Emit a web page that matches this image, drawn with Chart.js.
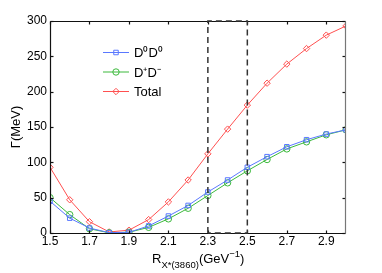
<!DOCTYPE html>
<html>
<head>
<meta charset="utf-8">
<script src="https://cdn.jsdelivr.net/npm/chart.js@4/dist/chart.umd.min.js"></script>
<style>
  html, body { margin: 0; padding: 0; background: #fff; }
</style>
</head>
<body>
<canvas id="chart" width="382" height="273"></canvas>
<script>
const rValues = [1.5, 1.6, 1.7, 1.8, 1.9, 2.0, 2.1, 2.2, 2.3, 2.4, 2.5, 2.6, 2.7, 2.8, 2.9, 3.0];
const d0d0 = [45, 21, 7, 0.5, 1, 10, 24, 39, 58, 75, 93, 108, 122, 132, 140, 146];
const dpdm = [50, 26, 6, 0.3, 1, 8, 20, 35, 53, 71, 88, 104, 119, 129, 139, 146];
const total = [93, 47, 16, 1.5, 4, 19, 44, 75, 112, 147, 181, 212, 239, 261, 280, 293];
const xTicks = [1.5, 1.7, 1.9, 2.1, 2.3, 2.5, 2.7, 2.9];
const yTicks = [0, 50, 100, 150, 200, 250, 300];
const boxRange = [2.3, 2.5];

const FONT = "'Liberation Sans', Arial, sans-serif";
const colors = {
  d0d0: "rgb(90,120,255)",
  dpdm: "rgb(60,185,60)",
  total: "rgb(255,80,80)",
};

const toPoints = (vals) => vals.map((v, i) => ({ x: rValues[i], y: v }));

const seriesList = [
  { label: "D\u2070D\u2070", data: d0d0, color: colors.d0d0, style: "rect" },
  { label: "D\u207AD\u207B", data: dpdm, color: colors.dpdm, style: "circle" },
  { label: "Total", data: total, color: colors.total, style: "rectRot" },
];

function seg(ctx, x1, y1, x2, y2) {
  ctx.beginPath();
  ctx.moveTo(x1, y1);
  ctx.lineTo(x2, y2);
  ctx.stroke();
}

// frame, inward ticks, dashed box, legend and titles
const decorations = {
  id: "decorations",
  afterDraw(chart) {
    const { ctx, chartArea: a, scales } = chart;
    const xs = scales.x, ys = scales.y;
    const L = Math.round(a.left) + 0.5, R = Math.round(a.right) - 0.5;
    const T = Math.round(a.top) + 0.5, B = Math.round(a.bottom) + 0.5;

    ctx.save();
    ctx.setLineDash([]);
    ctx.lineWidth = 1.2;
    ctx.strokeStyle = "#111";
    seg(ctx, L, T, L, B);
    seg(ctx, L, B, R, B);
    seg(ctx, L, T, R, T);
    xTicks.forEach((v) => {
      const px = Math.round(xs.getPixelForValue(v)) + 0.5;
      seg(ctx, px, B, px, B - 3);
      seg(ctx, px, T, px, T + 3);
    });
    yTicks.forEach((v) => {
      const py = Math.round(ys.getPixelForValue(v)) + 0.5;
      seg(ctx, L, py, L + 3, py);
      seg(ctx, R, py, R - 3, py);
    });
    ctx.strokeStyle = "#777";
    seg(ctx, R, T, R, B);
    ctx.restore();

    // dashed box
    ctx.save();
    ctx.strokeStyle = "#333";
    ctx.lineWidth = 1.5;
    ctx.setLineDash([6, 4]);
    const bx1 = xs.getPixelForValue(boxRange[0]);
    const bx2 = xs.getPixelForValue(boxRange[1]);
    const by1 = ys.getPixelForValue(300);
    const by2 = ys.getPixelForValue(0);
    ctx.beginPath();
    ctx.moveTo(bx1, by2); ctx.lineTo(bx1, by1);
    ctx.lineTo(bx2, by1); ctx.lineTo(bx2, by2);
    ctx.lineTo(bx1, by2);
    ctx.stroke();
    ctx.restore();

    ctx.save();
    // tick labels
    ctx.fillStyle = "#000";
    ctx.font = "12px " + FONT;
    ctx.textAlign = "center";
    ctx.textBaseline = "middle";
    xTicks.forEach((v) => {
      ctx.fillText(v.toFixed(1), xs.getPixelForValue(v), a.bottom + 9);
    });
    ctx.textAlign = "right";
    yTicks.forEach((v) => {
      ctx.fillText(String(v), a.left - 3, ys.getPixelForValue(v));
    });

    // legend
    const lx = a.left + 53;
    let ly = a.top + 31.5;
    ctx.font = "13px " + FONT;
    ctx.textAlign = "left";
    ctx.textBaseline = "middle";
    seriesList.forEach((s) => {
      ctx.strokeStyle = s.color;
      ctx.fillStyle = "rgba(0,0,0,0)";
      ctx.lineWidth = 1;
      seg(ctx, lx, ly, lx + 26, ly);
      Chart.helpers.drawPoint(ctx, { pointStyle: s.style, radius: 3.2, borderWidth: 1 }, lx + 13, ly);
      ctx.fillStyle = "#000";
      ctx.fillText(s.label, lx + 31, ly + 1);
      ly += 19.5;
    });

    // y title
    ctx.save();
    ctx.translate(16, (a.top + a.bottom) / 2);
    ctx.rotate(-Math.PI / 2);
    ctx.textAlign = "center";
    ctx.textBaseline = "middle";
    ctx.font = "13px " + FONT;
    ctx.fillText("\u0393(MeV)", 0, 0);
    ctx.restore();

    // x title with subscript and superscript
    let tx = 152;
    const ty = 263;
    ctx.textAlign = "left";
    ctx.textBaseline = "alphabetic";
    const part = (text, size, dy) => {
      ctx.font = size + "px " + FONT;
      ctx.fillText(text, tx, ty + dy);
      tx += ctx.measureText(text).width;
    };
    part("R", 13, 0);
    part("X*(3860)", 9.5, 5);
    part("(GeV", 13, 0);
    part("\u22121", 9.5, -6);
    part(")", 13, 0);
    ctx.restore();
  },
};

const chart = new Chart(document.getElementById("chart"), {
  type: "line",
  data: {
    datasets: seriesList.map((s) => ({
      label: s.label,
      data: toPoints(s.data),
      borderColor: s.color,
      backgroundColor: "rgba(0,0,0,0)",
      pointBorderColor: s.color,
      pointBackgroundColor: "rgba(0,0,0,0)",
      pointStyle: s.style,
      pointRadius: 3.2,
      pointBorderWidth: 1,
      borderWidth: 1,
      tension: 0,
    })),
  },
  options: {
    responsive: false,
    animation: false,
    layout: { padding: { left: 0, top: 21, right: 36, bottom: 0 } },
    plugins: { legend: { display: false }, tooltip: { enabled: false } },
    scales: {
      x: {
        type: "linear",
        min: 1.5,
        max: 3.0,
        grid: { display: false },
        border: { display: false },
        ticks: { display: false },
        afterFit: (s) => { s.height = 40; },
      },
      y: {
        min: 0,
        max: 300,
        grid: { display: false },
        border: { display: false },
        ticks: { display: false },
        afterFit: (s) => { s.width = 50; },
      },
    },
  },
  plugins: [decorations],
});
</script>
</body>
</html>
